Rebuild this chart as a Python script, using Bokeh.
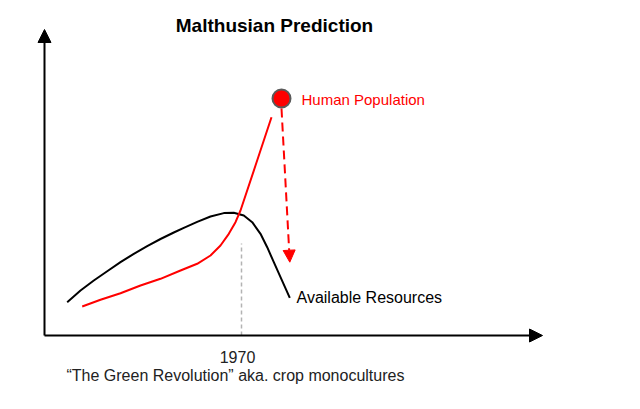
from bokeh.plotting import figure
from bokeh.models import Range1d, Arrow, NormalHead
from bokeh.core.properties import value
from bokeh.embed import file_html
from bokeh.resources import INLINE

# --- data (schematic units: origin where the two axes meet, y up) ---
resources_x = [22.7, 36, 49.3, 62.7, 76, 89.3, 102.7, 116, 129.3, 139.3, 152.7, 166,
               179.3, 189.3, 199.3, 207.7, 216, 222.7, 229.3, 236, 245.3]
resources_y = [33.3, 45, 55, 64.3, 73.3, 81.7, 89.4, 96.5, 103, 107.7, 113.6, 119,
               122.4, 122.7, 120, 113.3, 101.7, 88.3, 73.3, 58.3, 37.7]

population_x = [37.7, 56, 76, 96, 116, 136, 152.7, 166, 176, 184.3, 191, 196, 211, 227]
population_y = [29, 35.7, 42.3, 50, 56.7, 65, 71.7, 80, 90, 101.7, 113.3, 125, 170, 218.3]

peak_point_x = [237]
peak_point_y = [237]
collapse_x = [237, 245.3]
collapse_y = [227, 73.3]

year_x = 197
year_top = 92
year_label = "1970"
caption = "\u201cThe Green Revolution\u201d aka. crop monocultures"
title_text = "Malthusian Prediction"
population_label = "Human Population"
resources_label = "Available Resources"

x_axis_end = 498
y_axis_end = 306

FONT = "Liberation Sans"

p = figure(width=624, height=393, output_backend="svg", toolbar_location=None,
           x_range=Range1d(-44, 580), y_range=Range1d(-58, 335),
           min_border=0, min_border_left=0, min_border_right=0,
           min_border_top=0, min_border_bottom=0)
p.axis.visible = False
p.grid.visible = False
p.outline_line_color = None
p.background_fill_color = "white"
p.border_fill_color = "white"

# 1970 marker line
p.segment(x0=[year_x], y0=[0], x1=[year_x], y1=[year_top],
          line_color="#b3b3b3", line_width=1.5, line_dash="4 3")

# axes with arrows
p.add_layout(Arrow(x_start=0, y_start=0, x_end=x_axis_end, y_end=0,
                   line_color="black", line_width=2,
                   end=NormalHead(size=13, fill_color="black", line_color="black", line_width=1)))
p.add_layout(Arrow(x_start=0, y_start=0, x_end=0, y_end=y_axis_end,
                   line_color="black", line_width=2,
                   end=NormalHead(size=13, fill_color="black", line_color="black", line_width=1)))

# curves
p.line(resources_x, resources_y, line_color="black", line_width=2, line_join="round")
p.line(population_x, population_y, line_color="#ff0000", line_width=2, line_join="round")

# collapse arrow
p.add_layout(Arrow(x_start=collapse_x[0], y_start=collapse_y[0],
                   x_end=collapse_x[1], y_end=collapse_y[1],
                   line_color="#ff0000", line_width=2, line_dash="9 5",
                   end=NormalHead(size=12, fill_color="#ff0000", line_color="#ff0000", line_width=1)))

p.scatter(peak_point_x, peak_point_y, size=18, fill_color="#ff0000",
          line_color="#5a5a5a", line_width=2)

# texts
p.text(x=[230], y=[310], text=[title_text], text_font=value(FONT),
       text_font_size="19px", text_font_style="bold", text_color="black",
       text_align="center", text_baseline="middle")
p.text(x=[257], y=[236], text=[population_label], text_font=value(FONT),
       text_font_size="15px", text_color="#ff0000",
       text_align="left", text_baseline="middle")
p.text(x=[252], y=[38], text=[resources_label], text_font=value(FONT),
       text_font_size="16px", text_color="black",
       text_align="left", text_baseline="middle")
p.text(x=[193], y=[-21], text=[year_label], text_font=value(FONT),
       text_font_size="16px", text_color="#222222",
       text_align="center", text_baseline="middle")
p.text(x=[22], y=[-40], text=[caption], text_font=value(FONT),
       text_font_size="16px", text_color="#222222",
       text_align="left", text_baseline="middle")

open("out.html", "w").write(file_html(p, INLINE))
